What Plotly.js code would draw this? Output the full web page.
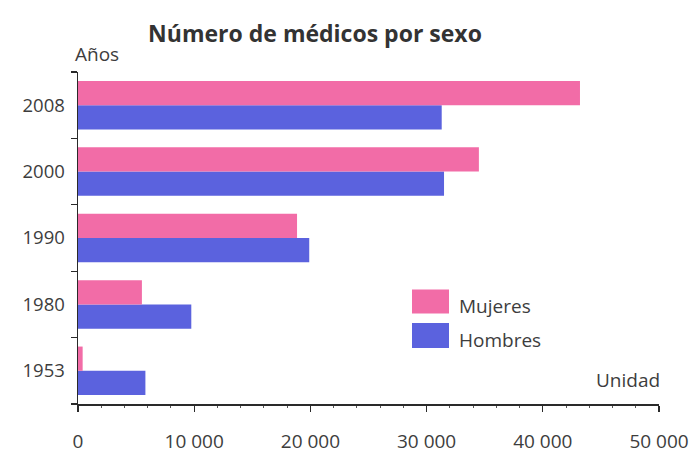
<!DOCTYPE html>
<html>
<head>
<meta charset="utf-8">
<script src="https://cdn.plot.ly/plotly-3.0.1.min.js"></script>
<style>html,body{margin:0;padding:0;background:#fff;}#chart{width:700px;height:459px;}</style>
</head>
<body>
<div id="chart"></div>
<script>
// Data
const years = ["1953", "1980", "1990", "2000", "2008"];
const mujeres = [400, 5500, 18850, 34500, 43200];
const hombres = [5800, 9750, 19900, 31500, 31300];
const xTickVals = [0, 10000, 20000, 30000, 40000, 50000];
const xTickText = ["0", "10 000", "20 000", "30 000", "40 000", "50 000"];
const seriesNames = ["Mujeres", "Hombres"];
const titleText = "Número de médicos por sexo";
const yAxisLabel = "Años";
const xAxisLabel = "Unidad";

const pink = "#F26CA7";
const blue = "#5B62DE";
const textColor = "#3d3d3d";
const font = "'Open Sans', 'DejaVu Sans', sans-serif";

// Hombres drawn first so it appears below Mujeres within each group
const traces = [
  {type: "bar", orientation: "h", name: seriesNames[1], y: years, x: hombres,
   marker: {color: blue}, showlegend: false, hoverinfo: "x+y+name"},
  {type: "bar", orientation: "h", name: seriesNames[0], y: years, x: mujeres,
   marker: {color: pink}, showlegend: false, hoverinfo: "x+y+name"}
];

const layout = {
  width: 700, height: 459,
  margin: {l: 78, r: 41, t: 72, b: 55, pad: 0},
  paper_bgcolor: "#ffffff", plot_bgcolor: "#ffffff",
  font: {family: font, size: 18, color: textColor},
  barmode: "group",
  bargap: 0.27,
  bargroupgap: 0,
  showlegend: false,
  title: {text: "<b>" + titleText + "</b>", font: {family: font, size: 23, color: "#333333"},
          xref: "container", yref: "container", x: 0.45, y: 0.926, xanchor: "center", yanchor: "middle"},
  xaxis: {
    range: [0, 50000], tickvals: xTickVals, ticktext: xTickText,
    showgrid: false, zeroline: false, showline: true, linecolor: "#2a2a2a", linewidth: 1.5,
    ticks: "outside", ticklen: 6, tickwidth: 1.3, tickcolor: "#2a2a2a",
    minor: {dtick: 2000, ticks: "outside", ticklen: 2, tickwidth: 1, tickcolor: "#555"},
    ticklabelstandoff: 14,
    tickfont: {family: font, size: 19, color: textColor},
    fixedrange: true
  },
  yaxis: {
    type: "category", categoryorder: "array", categoryarray: years,
    showgrid: false, zeroline: false, showline: true, linecolor: "#2a2a2a", linewidth: 1.5,
    ticks: "outside", tickson: "boundaries", ticklen: 6, tickwidth: 1.3, tickcolor: "#2a2a2a",
    ticklabelstandoff: 8,
    tickfont: {family: font, size: 18.5, color: textColor},
    fixedrange: true
  },
  shapes: [
    {type: "rect", xref: "paper", yref: "paper", x0: (412 - 78) / 581, x1: (449 - 78) / 581,
     y0: (404 - 313.5) / 332, y1: (404 - 289.5) / 332, fillcolor: pink, line: {width: 0}},
    {type: "rect", xref: "paper", yref: "paper", x0: (412 - 78) / 581, x1: (449 - 78) / 581,
     y0: (404 - 348) / 332, y1: (404 - 323) / 332, fillcolor: blue, line: {width: 0}}
  ],
  annotations: [
    {text: seriesNames[0], xref: "paper", yref: "paper", x: (457 - 78) / 581, y: (404 - 306) / 332,
     xanchor: "left", yanchor: "middle", showarrow: false, font: {family: font, size: 19, color: textColor}},
    {text: seriesNames[1], xref: "paper", yref: "paper", x: (457 - 78) / 581, y: (404 - 340) / 332,
     xanchor: "left", yanchor: "middle", showarrow: false, font: {family: font, size: 19, color: textColor}},
    {text: yAxisLabel, xref: "paper", yref: "paper", x: -0.008, y: (404 - 54) / 332,
     xanchor: "left", yanchor: "middle", showarrow: false, font: {family: font, size: 19, color: textColor}},
    {text: xAxisLabel, xref: "paper", yref: "paper", x: (662 - 78) / 581, y: (404 - 380) / 332,
     xanchor: "right", yanchor: "middle", showarrow: false, font: {family: font, size: 19, color: textColor}}
  ]
};

Plotly.newPlot("chart", traces, layout, {staticPlot: true, displayModeBar: false});
</script>
</body>
</html>
